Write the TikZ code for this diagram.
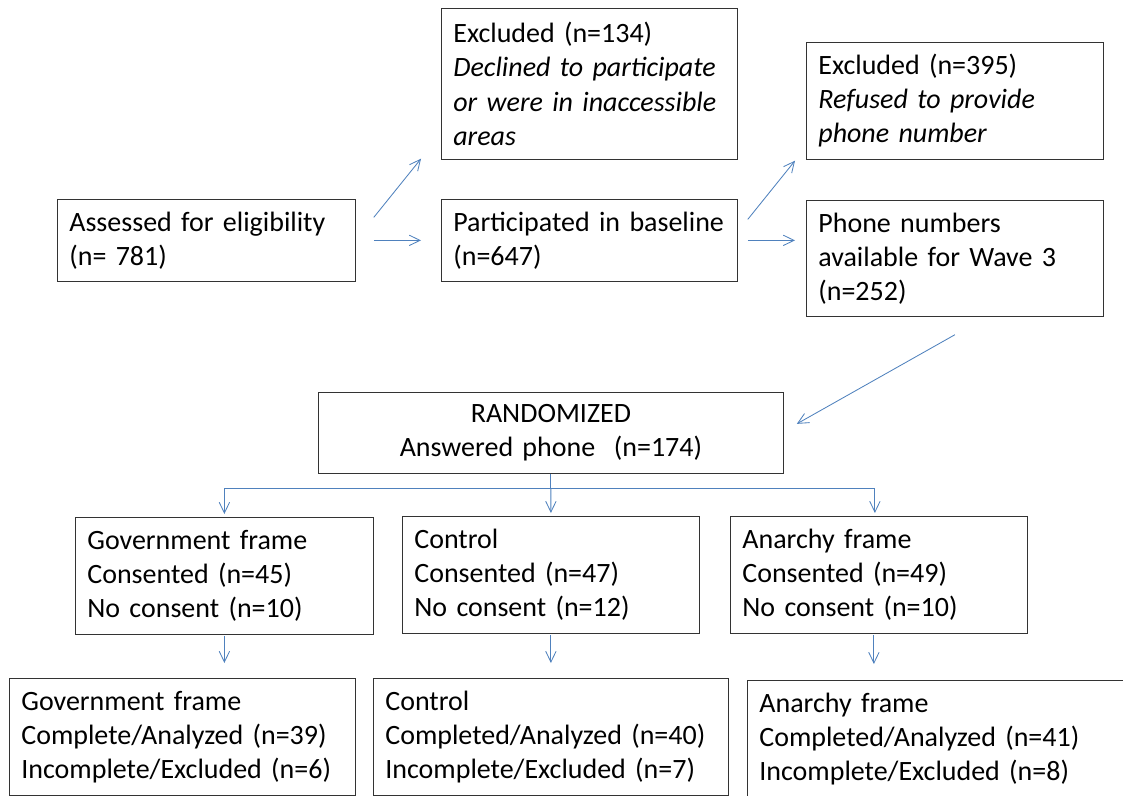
\documentclass[tikz,border=0pt]{standalone}
\usepackage{fontspec}
\setmainfont{Carlito}
\usetikzlibrary{positioning, arrows.meta, calc}

\definecolor{flowblue}{RGB}{79,129,189}

\begin{document}
\begin{tikzpicture}[x=0.025cm, y=-0.025cm,
    box/.style={draw=black!80, line width=0.5pt, rectangle, anchor=north west,
        align=left, inner xsep=0.3cm, font=\fontsize{19.9pt}{24.2pt}\selectfont},
    arr/.style={draw=flowblue, line width=0.6pt,
        -{Straight Barb[length=0.27cm, width=0.26cm]}},
    link/.style={draw=flowblue, line width=0.6pt}]
    \useasboundingbox (0,0) rectangle (1123,795);
    \clip (0,0) rectangle (1123,795);

    % enrolment
    \node[box, text width=6.85cm, minimum height=2.05cm] (elig) at (57,199)
        {Assessed for eligibility\\(n= 781)};
    \node[box, text width=6.8cm, minimum height=3.775cm] (exA) at (441,8)
        {Excluded (n=134)\\\textit{Declined to participate}\\\textit{or were in inaccessible}\\\textit{areas}};
    \node[box, text width=6.8cm, minimum height=2.05cm] (base) at (441,199)
        {Participated in baseline\\(n=647)};
    \node[box, text width=6.825cm, minimum height=2.925cm] (exB) at (806,42)
        {Excluded (n=395)\\\textit{Refused to provide}\\\textit{phone number}};
    \node[box, text width=6.825cm, minimum height=2.9cm] (phone) at (806,200)
        {Phone numbers\\available for Wave 3\\(n=252)};
    \node[box, align=center, text width=11.025cm, minimum height=2.025cm] (rand) at (318,392)
        {RANDOMIZED\\Answered phone\ \ (n=174)};

    % allocation
    \node[box, text width=6.85cm, minimum height=2.925cm] (gov) at (75,517)
        {Government frame\\Consented (n=45)\\No consent (n=10)};
    \node[box, text width=6.825cm, minimum height=2.925cm] (ctl) at (402,516)
        {Control\\Consented (n=47)\\No consent (n=12)};
    \node[box, text width=6.825cm, minimum height=2.925cm] (anar) at (730,516)
        {Anarchy frame\\Consented (n=49)\\No consent (n=10)};
    \coordinate (anarIn) at ($(anar.north)+(-4,0)$);
    \coordinate (anarOut) at ($(anar.south)+(-5,0)$);

    % analysis
    \node[box, text width=8.05cm, minimum height=2.925cm] (govEnd) at (9,678)
        {Government frame\\Complete/Analyzed (n=39)\\Incomplete/Excluded (n=6)};
    \node[box, text width=8.275cm, minimum height=2.925cm] (ctlEnd) at (373,678)
        {Control\\Completed/Analyzed (n=40)\\Incomplete/Excluded (n=7)};
    \node[box, text width=9.2cm, minimum height=2.925cm] (anarEnd) at (747,680)
        {Anarchy frame\\Completed/Analyzed (n=41)\\Incomplete/Excluded (n=8)};

    \draw[arr, shorten <=0.45cm, shorten >=0.5cm] (elig.east) -- (base.west);
    \draw[arr] ($(elig.east)+(18,-23)$) -- ($(exA.south west)+(-20,-1)$);
    \draw[arr, shorten <=0.25cm, shorten >=0.275cm] (base.east) -- (phone.west |- base.east);
    \draw[arr] ($(base.east)+(10,-21)$) -- ($(exB.south west)+(-11,1)$);
    \draw[arr] ($(phone.south)+(0,18)$) -- ($(rand.east)+(13,-9)$);

    \draw[link] (rand.south) -- ++(0,15) coordinate (split);
    \draw[link] (split -| gov.north) -- (split -| anarIn);
    \draw[arr, shorten >=0.075cm] (split -| gov.north) -- (gov.north);
    \draw[arr, shorten >=0.075cm] (split) -- (ctl.north);
    \draw[arr, shorten >=0.075cm] (split -| anarIn) -- (anarIn);

    \draw[arr, shorten <=0.03cm, shorten >=0.375cm] (gov.south) -- (gov.south |- govEnd.north);
    \draw[arr, shorten <=0.03cm, shorten >=0.375cm] (ctl.south) -- (ctl.south |- ctlEnd.north);
    \draw[arr, shorten <=0.03cm, shorten >=0.4cm] (anarOut) -- (anarOut |- anarEnd.north);
\end{tikzpicture}
\end{document}
